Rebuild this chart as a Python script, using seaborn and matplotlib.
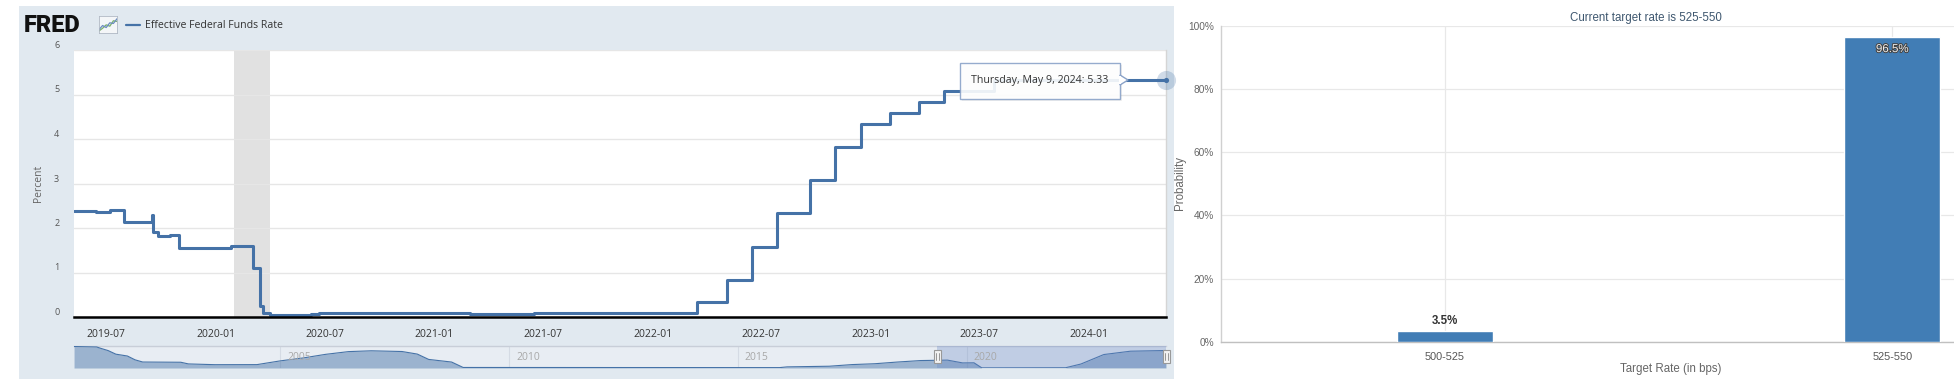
import matplotlib
matplotlib.use("Agg")
import matplotlib.pyplot as plt
import matplotlib.dates as mdates
import matplotlib.patheffects as pe
from matplotlib.patches import Rectangle, Polygon
from matplotlib.lines import Line2D
import seaborn as sns
import pandas as pd

# ---------------- data ----------------
effr_dates = ["2019-05-09", "2019-06-14", "2019-07-08", "2019-08-01", "2019-09-13",
              "2019-09-17", "2019-09-19", "2019-09-27", "2019-10-16", "2019-10-31",
              "2020-01-27", "2020-03-04", "2020-03-16", "2020-03-20", "2020-04-01",
              "2020-06-08", "2020-06-22", "2021-01-04", "2021-03-01", "2021-06-17",
              "2021-08-02", "2022-03-17", "2022-05-05", "2022-06-16", "2022-07-28",
              "2022-09-22", "2022-11-03", "2022-12-15", "2023-02-02", "2023-03-23",
              "2023-05-04", "2023-07-27", "2024-05-09"]
effr_values = [2.38, 2.36, 2.40, 2.13, 2.14,
               2.30, 1.90, 1.82, 1.85, 1.56,
               1.59, 1.09, 0.25, 0.10, 0.05,
               0.07, 0.09, 0.08, 0.07, 0.10,
               0.08, 0.33, 0.83, 1.58, 2.33,
               3.08, 3.83, 4.33, 4.58, 4.83,
               5.08, 5.33, 5.33]

nav_dates = ["2000-07-01", "2000-12-29", "2001-01-31", "2001-03-30", "2001-05-31",
             "2001-08-31", "2001-10-31", "2001-12-31", "2002-10-31", "2002-12-31",
             "2003-07-31", "2004-06-30", "2004-12-31", "2005-06-30", "2005-12-30",
             "2006-06-30", "2006-12-29", "2007-08-31", "2007-12-31", "2008-03-31",
             "2008-09-30", "2008-12-31", "2015-11-30", "2016-01-29", "2016-12-30",
             "2017-06-30", "2017-12-29", "2018-06-29", "2018-12-31", "2019-07-31",
             "2019-11-29", "2020-02-28", "2020-04-30", "2022-02-28", "2022-06-30",
             "2022-12-30", "2023-07-31", "2024-05-09"]
nav_values = [6.54, 6.40, 5.98, 5.31, 4.21,
              3.65, 2.49, 1.82, 1.75, 1.24,
              1.01, 1.03, 2.16, 3.04, 4.16,
              4.99, 5.24, 5.02, 4.24, 2.61,
              1.81, 0.16, 0.12, 0.34, 0.54,
              1.04, 1.30, 1.82, 2.27, 2.40,
              1.55, 1.58, 0.05, 0.08, 1.21,
              4.10, 5.12, 5.33]

recession_start, recession_end = "2020-02-01", "2020-04-01"
view_start, view_end = "2019-05-09", "2024-05-09"
nav_start = "2000-07-01"
x_tick_dates = ["2019-07-01", "2020-01-01", "2020-07-01", "2021-01-01", "2021-07-01",
                "2022-01-01", "2022-07-01", "2023-01-01", "2023-07-01", "2024-01-01"]
nav_tick_years = ["2005", "2010", "2015", "2020"]
y_ticks = [0, 1, 2, 3, 4, 5, 6]

categories = ["500-525", "525-550"]
probabilities = [3.5, 96.5]
prob_ticks = [0, 20, 40, 60, 80, 100]

series_name = "Effective Federal Funds Rate"
title_right = "Current target rate is 525-550"

icon_x = [0, 1, 2, 3, 4, 5]
icon_blue = [1.0, 2.2, 1.6, 3.0, 2.8, 4.2]
icon_green = [0.6, 1.4, 2.4, 2.0, 3.6, 3.4]

# ---------------- style ----------------
sns.set_theme(style="white")
plt.rcParams["font.family"] = ["Open Sans", "DejaVu Sans"]
NARROW = ["Liberation Sans Narrow", "Liberation Sans", "DejaVu Sans"]

W, H = 1954, 382
fig = plt.figure(figsize=(W / 100, H / 100), dpi=100)
fig.patch.set_facecolor("white")


def box(l, t, r, b):
    return [l / W, 1 - b / H, (r - l) / W, (b - t) / H]


LINE = "#4572a7"

# panel background
fig.patches.append(Rectangle((19 / W, 1 - 379 / H), (1174 - 19) / W, (379 - 6) / H,
                             transform=fig.transFigure, facecolor="#e1e9f0",
                             edgecolor="none", zorder=-5))

# ---------------- main FRED chart ----------------
ax = fig.add_axes(box(74, 50, 1166, 317))
ax.set_facecolor("white")
df = pd.DataFrame({"date": pd.to_datetime(effr_dates), "rate": effr_values})
ax.axvspan(pd.Timestamp(recession_start), pd.Timestamp(recession_end),
           color="#e1e1e1", lw=0, zorder=0)
sns.lineplot(data=df, x="date", y="rate", ax=ax, drawstyle="steps-post",
             color=LINE, lw=2.2, zorder=3)
ax.set_xlim(pd.Timestamp(view_start), pd.Timestamp(view_end))
ax.set_ylim(0, 6)
ax.set_yticks(y_ticks)
ax.set_yticklabels([str(v) for v in y_ticks])
for lab in ax.get_yticklabels():
    lab.set_va("bottom")
    lab.set_ha("center")
ax.tick_params(axis="y", length=0, pad=12.5, labelsize=6.5, labelcolor="#555555")
ax.yaxis.grid(True, color="#e6e6e6", lw=1)
ax.xaxis.grid(False)
ax.set_xticks(pd.to_datetime(x_tick_dates))
ax.xaxis.set_major_formatter(mdates.DateFormatter("%Y-%m"))
ax.tick_params(axis="x", length=7, width=1, color="#ccd6eb", pad=1.5,
               labelsize=7.5, labelcolor="#333333")
ax.set_xlabel("")
ax.set_ylabel("")
for s in ["left", "top"]:
    ax.spines[s].set_visible(False)
ax.spines["right"].set_color("#d5d5d5")
ax.spines["right"].set_linewidth(1)
ax.spines["bottom"].set_color("black")
ax.spines["bottom"].set_linewidth(1.8)
ax.spines["bottom"].set_zorder(4)

fig.text(38 / W, 1 - 183 / H, "Percent", rotation=90, ha="center", va="center",
         fontsize=7.5, color="#666666")

# hover marker + tooltip
last_date = df["date"].iloc[-1]
last_val = df["rate"].iloc[-1]
ax.scatter([last_date], [last_val], s=190, color=LINE, alpha=0.25, lw=0,
           clip_on=False, zorder=5)
ax.scatter([last_date], [last_val], s=14, color=LINE, lw=0, clip_on=False, zorder=6)

tip_l, tip_t, tip_r, tip_b = 960, 63, 1120, 99
fig.patches.append(Rectangle(((tip_l + 2) / W, 1 - (tip_b + 2) / H), (tip_r - tip_l) / W,
                             (tip_b - tip_t) / H, transform=fig.transFigure,
                             facecolor="#000000", alpha=0.06, edgecolor="none", zorder=7))
fig.patches.append(Rectangle((tip_l / W, 1 - tip_b / H), (tip_r - tip_l) / W,
                             (tip_b - tip_t) / H, transform=fig.transFigure,
                             facecolor="white", alpha=0.9, edgecolor="#8aa2c8",
                             lw=1, zorder=8))
fig.patches.append(Polygon([(tip_r / W, 1 - 75 / H), ((tip_r + 8) / W, 1 - 80 / H),
                            (tip_r / W, 1 - 85 / H)], closed=True,
                           transform=fig.transFigure, facecolor="white",
                           edgecolor="#8aa2c8", lw=1, zorder=8))
fig.patches.append(Rectangle(((tip_r - 1) / W, 1 - 84 / H), 2 / W, 8 / H,
                             transform=fig.transFigure, facecolor="white",
                             edgecolor="none", zorder=9))
tip_text = f"{last_date:%A, %B} {last_date.day}, {last_date.year}: {last_val:.2f}"
fig.text(971 / W, 1 - 81 / H, tip_text, ha="left", va="center", fontsize=7.7,
         color="#333333", zorder=10)

# header: logo + legend
fig.text(24 / W, 1 - 25 / H, "FRED", ha="left", va="center", fontsize=17,
         fontweight="black", family=["Roboto", "DejaVu Sans"], color="#111111")
iax = fig.add_axes(box(99, 16, 117, 33))
iax.set_facecolor("#f4f6f8")
sns.lineplot(x=icon_x, y=icon_green, ax=iax, color="#7ab06a", lw=0.9)
sns.lineplot(x=icon_x, y=icon_blue, ax=iax, color="#6b8cc0", lw=0.9)
iax.set_xlim(0, 5)
iax.set_ylim(0, 5)
iax.set_xticks([])
iax.set_yticks([])
iax.set_xlabel("")
iax.set_ylabel("")
for s in iax.spines.values():
    s.set_color("#b0b8c4")
    s.set_linewidth(0.6)

fig.add_artist(Line2D([126 / W, 140 / W], [1 - 25 / H, 1 - 25 / H], color=LINE, lw=1.6))
fig.text(145 / W, 1 - 25 / H, series_name, ha="left", va="center", fontsize=7.6,
         color="#333333")

# ---------------- navigator ----------------
nav = fig.add_axes(box(74, 346, 1166, 368))
nav.set_facecolor("#e8edf3")
ndf = pd.DataFrame({"date": pd.to_datetime(nav_dates), "rate": nav_values})
nav.fill_between(ndf["date"], ndf["rate"], color=LINE, alpha=0.47, lw=0, zorder=2)
sns.lineplot(data=ndf, x="date", y="rate", ax=nav, color=LINE, lw=0.8, zorder=3)
nav.axvspan(pd.Timestamp(view_start), pd.Timestamp(view_end),
            color=(102 / 255, 133 / 255, 194 / 255), alpha=0.3, lw=0, zorder=4)
nav.set_xlim(pd.Timestamp(nav_start), pd.Timestamp(view_end))
nav.set_ylim(0, 6.7)
nav.set_xticks([])
nav.set_yticks([])
nav.set_xlabel("")
nav.set_ylabel("")
for yr in nav_tick_years:
    t = pd.Timestamp(f"{yr}-01-01")
    nav.axvline(t, color="#d5dbe4", lw=0.8, zorder=1)
    nav.annotate(yr, (mdates.date2num(t), 0.5), xycoords=("data", "axes fraction"),
                 xytext=(5, 0), textcoords="offset points", ha="left", va="center",
                 fontsize=7.5, color="#a8a8a8", zorder=5)
for s in ["left", "right", "bottom"]:
    nav.spines[s].set_visible(False)
nav.spines["top"].set_color("#c8ced8")
nav.spines["top"].set_linewidth(1)

fig.canvas.draw()
for d in [view_start, view_end]:
    xp = nav.transData.transform((mdates.date2num(pd.Timestamp(d)), 0))[0]
    fig.patches.append(Rectangle(((xp - 3) / W, 1 - 363 / H), 7 / W, 13 / H,
                                 transform=fig.transFigure, facecolor="#f2f2f2",
                                 edgecolor="#999999", lw=0.8, zorder=10))
    for dx in (-0.8, 1.8):
        fig.add_artist(Line2D([(xp + dx) / W] * 2, [1 - 360 / H, 1 - 353 / H],
                              color="#888888", lw=0.6, zorder=11))

# ---------------- CME probability chart ----------------
axr = fig.add_axes(box(1221, 25.5, 2116, 342))
axr.set_facecolor("white")
bdf = pd.DataFrame({"range": categories, "prob": probabilities})
sns.barplot(data=bdf, x="range", y="prob", ax=axr, color="#417db5", width=0.215,
            saturation=1, zorder=3)
axr.set_xlim(-0.5, len(categories) - 0.5)
axr.set_ylim(0, 100)
axr.set_yticks(prob_ticks)
axr.set_yticklabels([f"{v}%" for v in prob_ticks], family=NARROW)
axr.tick_params(axis="y", length=0, pad=5, labelsize=7.3, labelcolor="#666666")
axr.tick_params(axis="x", length=0, pad=7, labelsize=7.8, labelcolor="#555555")
for lab in axr.get_xticklabels():
    lab.set_family(NARROW)
axr.grid(True, color="#e8e8e8", lw=0.9)
axr.set_axisbelow(True)
axr.set_xlabel("")
axr.set_ylabel("")
for s in ["top", "right"]:
    axr.spines[s].set_visible(False)
axr.spines["left"].set_color("#d0d0d0")
axr.spines["bottom"].set_color("#c0c0c0")
axr.spines["left"].set_linewidth(1)
axr.spines["bottom"].set_linewidth(1)

for i, v in enumerate(probabilities):
    if v > 50:
        axr.annotate(f"{v:.1f}%", (i, v), xytext=(0, -9), textcoords="offset points",
                     ha="center", va="center", fontsize=8.3, family=NARROW,
                     color="#eeeeee", zorder=6,
                     path_effects=[pe.withStroke(linewidth=1.4, foreground="#444444")])
    else:
        axr.annotate(f"{v:.1f}%", (i, v), xytext=(0, 3), textcoords="offset points",
                     ha="center", va="bottom", fontsize=8.3, family=NARROW,
                     fontweight="bold", color="#333333", zorder=6)

fig.text(1646 / W, 1 - 18 / H, title_right, ha="center", va="center", fontsize=8.3,
         family=NARROW, color="#3e576f")
fig.text(1671 / W, 1 - 369 / H, "Target Rate (in bps)", ha="center", va="center",
         fontsize=8.3, family=NARROW, color="#666666")
fig.text(1180 / W, 1 - 183 / H, "Probability", rotation=90, ha="center", va="center",
         fontsize=8.3, family=NARROW, color="#666666")

fig.savefig("out.png", dpi=100, facecolor="white")
